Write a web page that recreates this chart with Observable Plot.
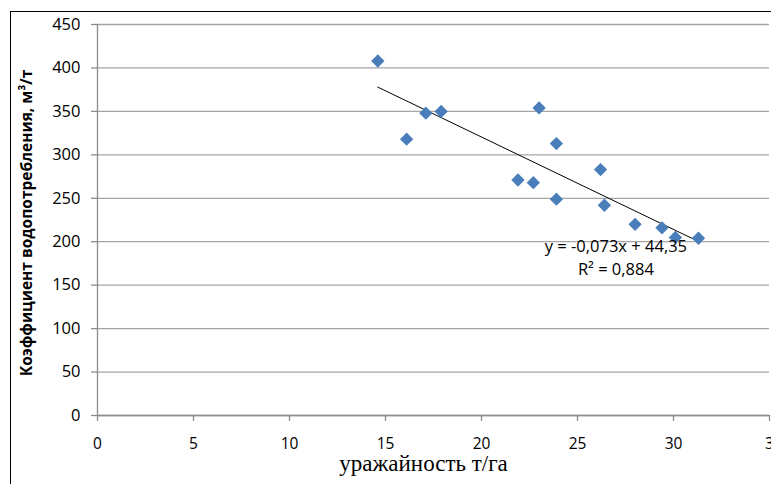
<!DOCTYPE html>
<html>
<head>
<meta charset="utf-8">
<script src="https://cdn.jsdelivr.net/npm/d3@7"></script>
<script src="https://cdn.jsdelivr.net/npm/@observablehq/plot@0.6"></script>
<style>
  body { margin: 0; background: #fff; }
  #wrap { position: relative; width: 771px; height: 484px; overflow: hidden; }
  #border { position: absolute; left: 10px; top: 11px; right: -5px; bottom: -5px; border-left: 1.5px solid #000; border-top: 1.5px solid #000; pointer-events: none; }
</style>
</head>
<body>
<div id="wrap"><div id="border"></div></div>
<script>
// Data
const yieldTHa = [14.6, 16.1, 17.1, 17.9, 21.9, 22.7, 23.0, 23.9, 23.9, 26.2, 26.4, 28.0, 29.4, 30.1, 31.3];
const waterCoef = [408, 318, 348, 350, 271, 268, 354, 313, 249, 283, 242, 220, 216, 205, 204];
const xTicks = [0, 5, 10, 15, 20, 25, 30, 35];
const xTickLabels = ["0", "5", "10", "15", "20", "25", "30", "3"];
const yTicks = [0, 50, 100, 150, 200, 250, 300, 350, 400, 450];
const xTitle = "уражайность т/га";
const yTitle = "Коэффициент водопотребления, м³/т";
const equationLines = ["y = -0,073x + 44,35", "R² = 0,884"];
const equationAnchor = { x: 27, y: 183 };

const points = yieldTHa.map((x, i) => ({ x, y: waterCoef[i] }));

const chart = Plot.plot({
  width: 771,
  height: 484,
  marginLeft: 97,
  marginRight: 2,
  marginTop: 24,
  marginBottom: 69,
  style: { fontFamily: "'Open Sans', sans-serif", fontSize: "15px", color: "#000", background: "transparent", overflow: "visible" },
  x: { domain: [0, 35] },
  y: { domain: [0, 450] },
  marks: [
    Plot.gridY(yTicks, { stroke: "#a6a6a6", strokeOpacity: 1, strokeWidth: 1.3 }),
    Plot.ruleX([0], { stroke: "#8c8c8c", strokeWidth: 1.3 }),
    Plot.ruleY([0], { stroke: "#8c8c8c", strokeWidth: 1.3 }),
    Plot.axisY({ ticks: yTicks, tickSize: 6, tickPadding: 11, label: null, stroke: "#8c8c8c", fill: "#000", strokeWidth: 1.3, fontSize: 16.5 }),
    Plot.axisX({ ticks: xTicks, tickSize: 6, tickPadding: 16, label: null, stroke: "#8c8c8c", fill: "#000", strokeWidth: 1.3, fontSize: 15.5,
      tickFormat: (d) => xTickLabels[xTicks.indexOf(d)] }),
    Plot.linearRegressionY(points, { x: "x", y: "y", ci: 0, stroke: "#000", strokeWidth: 1 }),
    Plot.dot(points, { x: "x", y: "y", symbol: "diamond2", r: 6, fill: "#4a7ebb", stroke: "none" }),
    Plot.text([equationLines.join("\n")], { x: () => equationAnchor.x, y: () => equationAnchor.y, lineHeight: 1.4, fontSize: 16.5, fill: "#000", textAnchor: "middle" }),
    Plot.text([yTitle], { frameAnchor: "left", textAnchor: "middle", rotate: -90, dx: -70, dy: 3, fontWeight: "bold", fontSize: 15.5, fill: "#000" }),
    Plot.text([xTitle], { frameAnchor: "bottom", textAnchor: "middle", dx: -10, dy: 55, fontFamily: "'Liberation Serif', serif", fontSize: 23, fill: "#000" })
  ]
});
document.getElementById("wrap").prepend(chart);
</script>
</body>
</html>
